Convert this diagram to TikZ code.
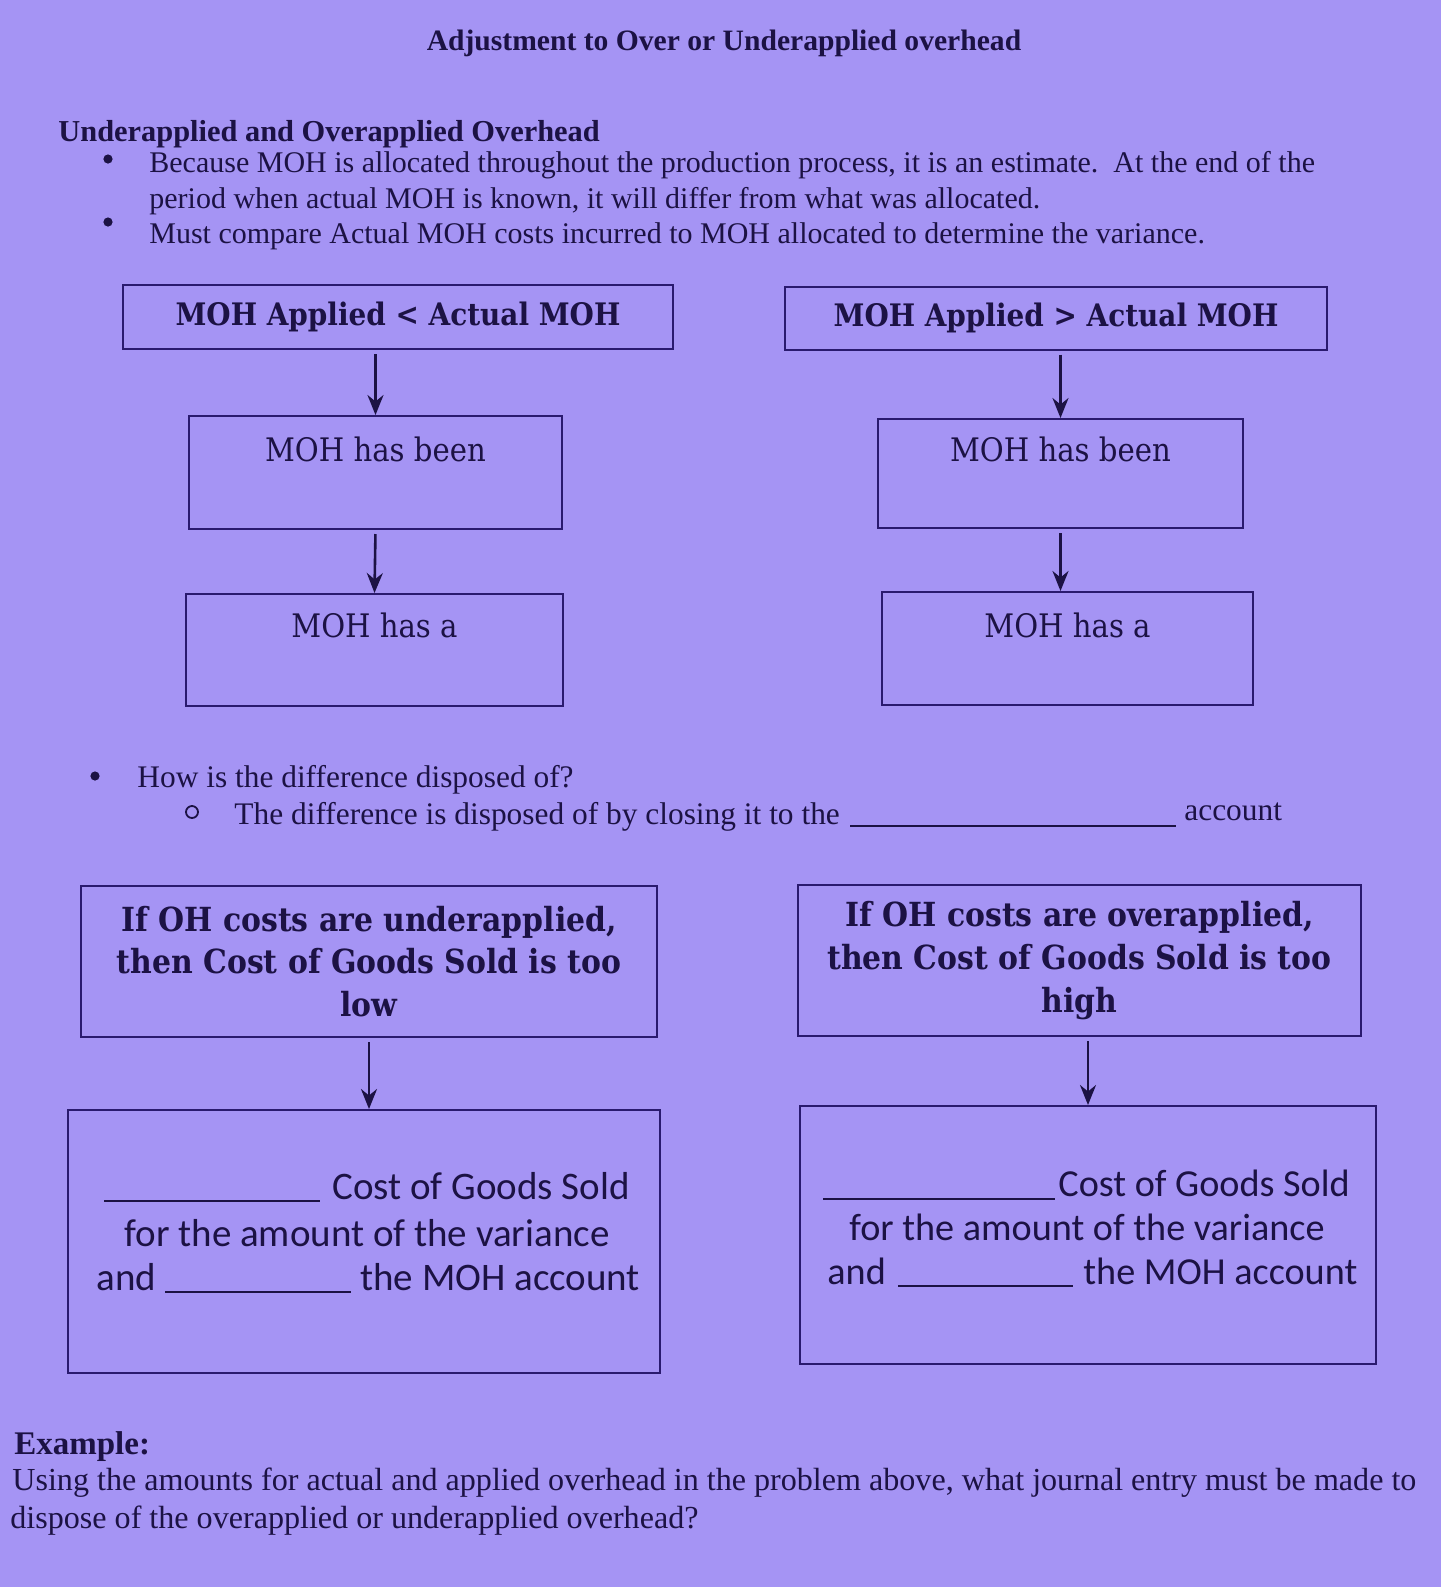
\documentclass[tikz,border=0pt]{standalone}
\usepackage{fontspec}
\setmainfont{Liberation Serif}
\newfontfamily\ohcambria{DejaVu Serif Condensed}
\newfontfamily\ohcalibri{Carlito}
\usetikzlibrary{arrows.meta,positioning,calc}
\definecolor{ohfond}{HTML}{A594F4}
\definecolor{ohencre}{HTML}{1C1244}
\definecolor{ohtrait}{HTML}{2A1A6E}

\begin{document}
\begin{tikzpicture}[x=0.5pt,y=-0.5pt,
  every node/.style={text=ohencre,inner sep=0pt},
  boite/.style={draw=ohtrait,line width=1pt,align=center},
  fleche/.style={draw=ohencre,line width=1.3pt,shorten <=2pt,-{Stealth[length=10pt,width=8pt]}},
  entete/.style={font=\ohcambria\bfseries\fontsize{15.5}{21}\selectfont},
  grandentete/.style={font=\ohcambria\bfseries\fontsize{16.6}{21.3}\selectfont},
  cambr/.style={font=\ohcambria\fontsize{16.2}{19}\selectfont},
  calib/.style={font=\ohcalibri\fontsize{19.5}{22}\selectfont,anchor=base west},
  corps/.style={font=\fontsize{15}{17}\selectfont,anchor=base west},
  milieu/.style={font=\fontsize{15.7}{18}\selectfont,anchor=base west},
  bas/.style={font=\fontsize{16.05}{19}\selectfont,anchor=base west},
  blanc/.style={draw=ohencre,line width=0.9pt}]
  % fond de page
  \fill[ohfond] (0,0) rectangle (1441,1587);
  \useasboundingbox (0,0) rectangle (1441,1587);

  % titres
  \node[font=\bfseries\fontsize{14.8}{17}\selectfont,anchor=base] (titre) at (724,50)
    {Adjustment to Over or Underapplied overhead};
  \node[font=\bfseries\fontsize{15.2}{18}\selectfont,anchor=base west] (soustitre) at (58,141)
    {Underapplied and Overapplied Overhead};

  % puces du haut
  \foreach \y in {159,222} {
    \fill[ohencre] (108,\y) circle (2.3pt);
  }
  \node[corps] (pa) at (149,172)
    {Because MOH is allocated throughout the production process, it is an estimate.\ \ At the end of the};
  \node[corps] (pb) at (149,208)
    {period when actual MOH is known, it will differ from what was allocated.};
  \node[corps] (pc) at (149,243)
    {Must compare Actual MOH costs incurred to MOH allocated to determine the variance.};

  % colonne gauche : applied < actual
  \node[boite,entete,minimum width=275pt,minimum height=32pt] (gA) at (398,317)
    {MOH Applied < Actual MOH};
  \node[boite,minimum width=186.5pt,minimum height=56.5pt] (gB) at (375.5,472.5) {};
  \node[cambr] (gBt) at (375.5,449) {MOH has been};
  \node[boite,minimum width=188.5pt,minimum height=56pt] (gC) at (374.5,650) {};
  \node[cambr] (gCt) at (374.5,625) {MOH has a};
  \draw[fleche] (gA.south -| gB.north) -- (gB.north);
  \draw[fleche] (gB.south) -- (gC.north);

  % colonne droite : applied > actual
  \node[boite,entete,minimum width=271pt,minimum height=31.5pt] (dA) at (1056,318)
    {MOH Applied > Actual MOH};
  \node[boite,minimum width=182.5pt,minimum height=54.5pt] (dB) at (1060.5,473.5) {};
  \node[cambr] (dBt) at (1060.5,449) {MOH has been};
  \node[boite,minimum width=185.5pt,minimum height=56.5pt] (dC) at (1067.5,648.5) {};
  \node[cambr] (dCt) at (1067.5,625) {MOH has a};
  \draw[fleche] (dA.south -| dB.north) -- (dB.north);
  \draw[fleche] (dB.south) -- (dB.south |- dC.north);

  % question
  \fill[ohencre] (95,776) circle (2.3pt);
  \node[milieu] (qa) at (137,787) {How is the difference disposed of?};
  \draw[ohencre,line width=0.9pt] (192,812) circle (3pt);
  \node[milieu] (qb) at (234,824) {The difference is disposed of by closing it to the};
  \draw[blanc] (850,826) -- (1176,826);
  \node[milieu] (qc) at (1184,820) {account};

  % sous-applique
  \node[boite,grandentete,minimum width=288pt,minimum height=75.5pt] (gD) at (369,961.5)
    {If OH costs are underapplied,\\then Cost of Goods Sold is too\\low};
  \node[boite,minimum width=296pt,minimum height=131.5pt] (gE) at (364,1241.5) {};
  \draw[fleche] (gD.south) -- (gD.south |- gE.north);
  \draw[blanc] (104,1201) -- (320,1201);
  \node[calib] (gE1) at (332,1199) {Cost of Goods Sold};
  \node[calib,anchor=base] (gE2) at (367,1246) {for the amount of the variance};
  \node[calib] (gE3) at (96,1290) {and};
  \draw[blanc] (165,1292) -- (351,1292);
  \node[calib] (gE4) at (360,1290) {the MOH account};

  % sur-applique
  \node[boite,grandentete,minimum width=281.5pt,minimum height=75.5pt] (dD) at (1079.5,960.5)
    {If OH costs are overapplied,\\then Cost of Goods Sold is too\\high};
  \node[boite,minimum width=288pt,minimum height=129pt] (dE) at (1088,1235) {};
  \draw[fleche] (dD.south -| dE.north) -- (dE.north);
  \draw[blanc] (823,1199) -- (1055,1199);
  \node[calib,font=\ohcalibri\fontsize{19.1}{22}\selectfont] (dE1) at (1058,1196) {Cost of Goods Sold};
  \node[calib,anchor=base,font=\ohcalibri\fontsize{19.1}{22}\selectfont] (dE2) at (1087,1240) {for the amount of the variance};
  \node[calib,font=\ohcalibri\fontsize{19.1}{22}\selectfont] (dE3) at (827,1284) {and};
  \draw[blanc] (898,1286) -- (1073,1286);
  \node[calib,font=\ohcalibri\fontsize{19.1}{22}\selectfont] (dE4) at (1083,1284) {the MOH account};

  % exemple
  \node[font=\bfseries\fontsize{16.5}{19}\selectfont,anchor=base west] (ex) at (14,1454) {Example:};
  \node[bas] (exa) at (12,1490)
    {Using the amounts for actual and applied overhead in the problem above, what journal entry must be made to};
  \node[bas] (exb) at (10,1528)
    {dispose of the overapplied or underapplied overhead?};
\end{tikzpicture}
\end{document}
